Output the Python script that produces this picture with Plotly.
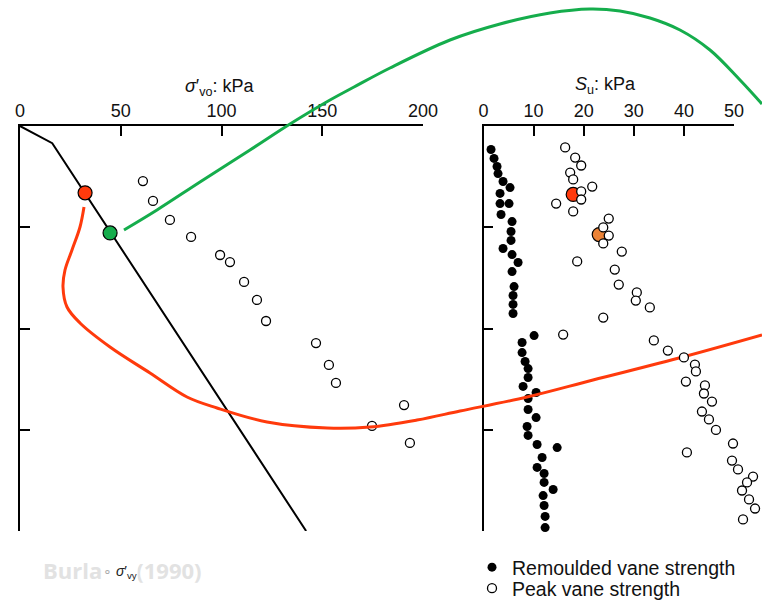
import plotly.graph_objects as go

W, H = 762, 604

# ---------------- data ----------------
# Left panel: sigma'_vy profile (line) and open-circle data (kPa vs depth)
svy_stress = [0, 16, 142]
svy_depth = [0, 0.85, 20]

oed_stress = [61.0, 66.0, 74.4, 84.9, 99.3, 104.2, 111.2, 117.6, 122.1,
              146.9, 153.3, 156.8, 190.6, 174.7, 193.5]
oed_depth = [2.72, 3.70, 4.64, 5.48, 6.37, 6.72, 7.70, 8.59, 9.63,
             10.72, 11.80, 12.69, 13.78, 14.81, 15.65]

# highlighted points, left panel
hl_left_stress = [32.3, 44.7]
hl_left_depth = [3.3, 5.28]

# Right panel: remoulded vane strength (kPa) vs depth
rem_su = [1.5, 2.1, 2.7, 2.9, 3.9, 5.3, 3.3, 5.1, 3.3, 3.5, 5.7, 5.5, 5.5, 3.9,
          5.7, 6.9, 5.7, 6.1, 5.9, 5.9, 5.9, 10.1, 7.7, 7.7, 8.3, 8.9, 8.9, 7.9,
          10.5, 8.9, 8.9, 10.5, 8.7, 8.9, 10.7, 14.7, 11.7, 10.7, 12.1, 12.1,
          13.9, 11.9, 12.1, 12.3, 12.3]
rem_depth = [1.16, 1.60, 2.00, 2.35, 2.74, 3.04, 3.33, 3.83, 3.83, 4.37, 4.72,
             5.21, 5.65, 6.05, 6.35, 6.74, 7.19, 7.93, 8.37, 8.81, 9.26, 10.35,
             10.69, 11.19, 11.63, 11.98, 12.42, 12.86, 13.16, 13.46, 14.00,
             14.40, 14.84, 15.28, 15.73, 15.88, 16.37, 16.86, 17.16, 17.60,
             17.95, 18.25, 18.74, 19.28, 19.83]

# Right panel: peak vane strength (kPa) vs depth
peak_su = [16.3, 18.3, 19.5, 17.3, 17.9, 21.7, 19.5, 19.5, 14.5, 17.9, 25.0,
           23.9, 25.0, 23.9, 27.6, 18.7, 26.2, 27.0, 30.6, 30.4, 33.2, 23.9,
           15.9, 34.0, 36.8, 40.0, 42.2, 42.4, 40.4, 44.2, 44.0, 45.6, 43.6,
           45.0, 46.4, 49.8, 40.6, 49.6, 50.8, 53.8, 52.6, 51.6, 53.0, 54.2, 51.8]
peak_depth = [1.06, 1.56, 1.95, 2.30, 2.64, 2.99, 3.23, 3.63, 3.83, 4.22, 4.57,
              5.01, 5.41, 5.80, 6.20, 6.69, 7.09, 7.83, 8.22, 8.62, 8.96, 9.46,
              10.30, 10.59, 11.09, 11.43, 11.78, 12.12, 12.62, 12.81, 13.21,
              13.61, 14.10, 14.49, 15.01, 15.68, 16.12, 16.52, 16.96, 17.31,
              17.60, 18.00, 18.44, 18.89, 19.43]

# highlighted points, right panel
hl_right_su = [17.9, 23.1]
hl_right_depth = [3.38, 5.36]

# connector curves (canvas units, overlay axis spanning the figure)
green_x = [124, 157, 200, 250, 290, 330, 354, 390, 450, 500, 550, 590, 620,
           650, 680, 710, 740, 762]
green_y = [230, 210, 182, 150, 124, 100, 87, 68, 40, 24, 13, 9, 11, 18, 30,
           50, 80, 104]
red_x = [84, 80, 72, 65, 63, 67, 80, 110, 150, 187, 217, 267, 327, 370, 417,
         460, 527, 593, 683, 762]
red_y = [207, 227, 250, 270, 287, 307, 323, 347, 373, 397, 408, 422, 428, 427,
         420, 411, 397, 380, 357, 335]

left_ticks = [0, 50, 100, 150, 200]
right_ticks = [0, 10, 20, 30, 40, 50]
depth_ticks = [0, 5, 10, 15, 20]

# ---------------- styles ----------------
RED = "#ff3a0c"
GREEN = "#15ad4c"
ORANGE = "#ec8336"
FONT = "Liberation Sans, Arial, sans-serif"

# layout geometry (pixels)
XL0, XL1 = 20, 423
XR0, XR1 = 483.5, 734
YT, YB = 126, 531
xl_dom = [XL0 / W, XL1 / W]
xr_dom = [XR0 / W, XR1 / W]
xr_ext_dom = [XR0 / W, 1.0]
xr_ext_max = 50 * (W - XR0) / (XR1 - XR0)
y_dom = [1 - YB / H, 1 - YT / H]

fig = go.Figure()

fig.add_trace(go.Scatter(x=svy_stress, y=svy_depth, mode="lines",
                         line=dict(color="black", width=2),
                         xaxis="x", yaxis="y", showlegend=False))
fig.add_trace(go.Scatter(x=oed_stress, y=oed_depth, mode="markers",
                         marker=dict(symbol="circle", size=9, color="white",
                                     line=dict(color="black", width=1.3)),
                         xaxis="x", yaxis="y", showlegend=False, cliponaxis=False))
fig.add_trace(go.Scatter(x=rem_su, y=rem_depth, mode="markers",
                         name="Remoulded vane strength", legend="legend",
                         marker=dict(symbol="circle", size=9, color="black"),
                         xaxis="x2", yaxis="y2", cliponaxis=False))
fig.add_trace(go.Scatter(x=peak_su, y=peak_depth, mode="markers",
                         name="Peak vane strength", legend="legend2",
                         marker=dict(symbol="circle", size=9, color="white",
                                     line=dict(color="black", width=1.3)),
                         xaxis="x4", yaxis="y2", cliponaxis=False))

# connector curves
fig.add_trace(go.Scatter(x=green_x, y=green_y, mode="lines",
                         line=dict(color=GREEN, width=3, shape="spline", smoothing=1),
                         xaxis="x3", yaxis="y3", showlegend=False))
fig.add_trace(go.Scatter(x=red_x, y=red_y, mode="lines",
                         line=dict(color=RED, width=3, shape="spline", smoothing=1),
                         xaxis="x3", yaxis="y3", showlegend=False))

# highlighted points
fig.add_trace(go.Scatter(x=hl_left_stress, y=hl_left_depth, mode="markers",
                         marker=dict(size=14, color=[RED, GREEN],
                                     line=dict(color="black", width=1.2)),
                         xaxis="x", yaxis="y", showlegend=False, cliponaxis=False))
fig.add_trace(go.Scatter(x=hl_right_su, y=hl_right_depth, mode="markers",
                         marker=dict(size=14, color=[RED, ORANGE],
                                     line=dict(color="black", width=1.2)),
                         xaxis="x2", yaxis="y2", showlegend=False, cliponaxis=False))

axis_common = dict(showline=True, linecolor="black", linewidth=1.6,
                   ticks="inside", ticklen=10, tickwidth=1.6, tickcolor="black",
                   showgrid=False, zeroline=False, automargin=False,
                   tickfont=dict(family=FONT, size=18, color="#111"))

legend_common = dict(xanchor="left", yanchor="top", bgcolor="rgba(0,0,0,0)",
                     itemwidth=30, font=dict(family=FONT, size=19.5, color="#111"))

fig.update_layout(
    width=W, height=H,
    margin=dict(l=0, r=0, t=0, b=0, pad=0, autoexpand=False),
    paper_bgcolor="white", plot_bgcolor="rgba(0,0,0,0)",
    font=dict(family=FONT, color="#111"),
    xaxis=dict(domain=xl_dom, range=[0, 200], side="top", anchor="y",
               tickvals=left_ticks, **axis_common),
    yaxis=dict(domain=y_dom, range=[20, 0], anchor="x",
               tickvals=depth_ticks, showticklabels=False, **axis_common),
    xaxis2=dict(domain=xr_dom, range=[0, 50], side="top", anchor="y2",
                tickvals=right_ticks, **axis_common),
    yaxis2=dict(domain=y_dom, range=[20, 0], anchor="x2",
                tickvals=depth_ticks, showticklabels=False, **axis_common),
    xaxis3=dict(domain=[0, 1], range=[0, W], anchor="y3", visible=False,
                fixedrange=True),
    yaxis3=dict(domain=[0, 1], range=[H, 0], anchor="x3", visible=False,
                fixedrange=True),
    xaxis4=dict(domain=xr_ext_dom, range=[0, xr_ext_max], anchor="y2",
                visible=False, fixedrange=True),
    showlegend=True,
    legend=dict(x=472 / W, y=1 - 548 / H, **legend_common),
    legend2=dict(x=472 / W, y=1 - 569 / H, **legend_common),
    annotations=[
        dict(text="<i>σ</i>′<sub>vo</sub>: kPa", x=220 / W, y=1 - 88 / H,
             xref="paper", yref="paper", xanchor="center", yanchor="middle",
             showarrow=False, font=dict(family=FONT, size=18, color="#111")),
        dict(text="<i>S</i><sub>u</sub>: kPa", x=605 / W, y=1 - 85 / H,
             xref="paper", yref="paper", xanchor="center", yanchor="middle",
             showarrow=False, font=dict(family=FONT, size=18, color="#111")),
        dict(text="<b>Burland (1990)</b>", x=122 / W, y=1 - 570 / H,
             xref="paper", yref="paper", xanchor="center", yanchor="middle",
             showarrow=False,
             font=dict(family="Open Sans, sans-serif", size=22, color="#e2e2e2")),
        dict(text="<span style='color:#aaa'>∘</span> <i>σ</i>′<sub>vy</sub>",
             x=120 / W, y=1 - 572 / H, borderpad=0,
             xref="paper", yref="paper", xanchor="center", yanchor="middle",
             showarrow=False, bgcolor="white",
             font=dict(family=FONT, size=14, color="#222")),
    ],
)

fig.write_html("out.html", config={"displayModeBar": False},
               post_script="document.body.style.margin='0px';"
                           "document.body.style.overflow='hidden';")
